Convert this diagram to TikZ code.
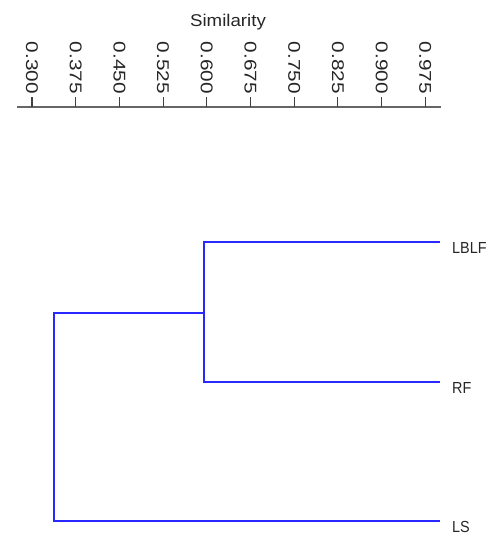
\documentclass[tikz,border=0pt]{standalone}
\usepackage{fontspec}
\setmainfont{Liberation Sans}
\begin{document}
\begin{tikzpicture}[x=1pt,y=-1pt,
  axisline/.style={draw=black!60,line width=1.8pt},
  tickmark/.style={draw=black!75,line width=1.1pt},
  ticklabel/.style={rotate=-90,anchor=east,inner sep=0pt,text=black!85,
    font=\fontsize{17}{17}\selectfont},
  branch/.style={draw={rgb,255:red,40;green,40;blue,255},line width=1.9pt},
  leaflabel/.style={anchor=west,inner sep=0pt,text=black!85,
    font=\fontsize{16}{16}\selectfont}]
\useasboundingbox (0,0) rectangle (493,535);

% similarity scale
\node[inner sep=0pt,text=black!85,font=\fontsize{17}{17}\selectfont]
  (title) at (228,22) {\scalebox{1.1}[1]{Similarity}};
\coordinate (axL) at (17,107);
\coordinate (axR) at (441,107);
\draw[axisline] (axL) -- (axR);
\foreach \v [count=\i from 0] in {0.300,0.375,0.450,0.525,0.600,0.675,0.750,0.825,0.900,0.975}{
  \pgfmathsetmacro{\tx}{32+43.7*\i}
  \coordinate (t\i) at (\tx,107);
  \draw[tickmark] (t\i) -- ++(0,-10);
  \node[ticklabel] (l\i) at (\tx,94) {\scalebox{1.22}[1]{\v}};
}

% dendrogram
\node[leaflabel] (lblf) at (452,248) {\scalebox{0.9}[1]{LBLF}};
\node[leaflabel] (rf)   at (452,388) {\scalebox{0.9}[1]{RF}};
\node[leaflabel] (ls)   at (452,527) {\scalebox{0.9}[1]{LS}};
\coordinate (eLBLF) at (440,242);
\coordinate (eRF)   at (440,382);
\coordinate (eLS)   at (440,521);
\coordinate (jA) at (204,313);
\coordinate (jB) at (54,313);
\draw[branch] (eLBLF) -| (jA) |- (eRF);
\draw[branch] (jA) -- (jB) |- (eLS);
\end{tikzpicture}
\end{document}
